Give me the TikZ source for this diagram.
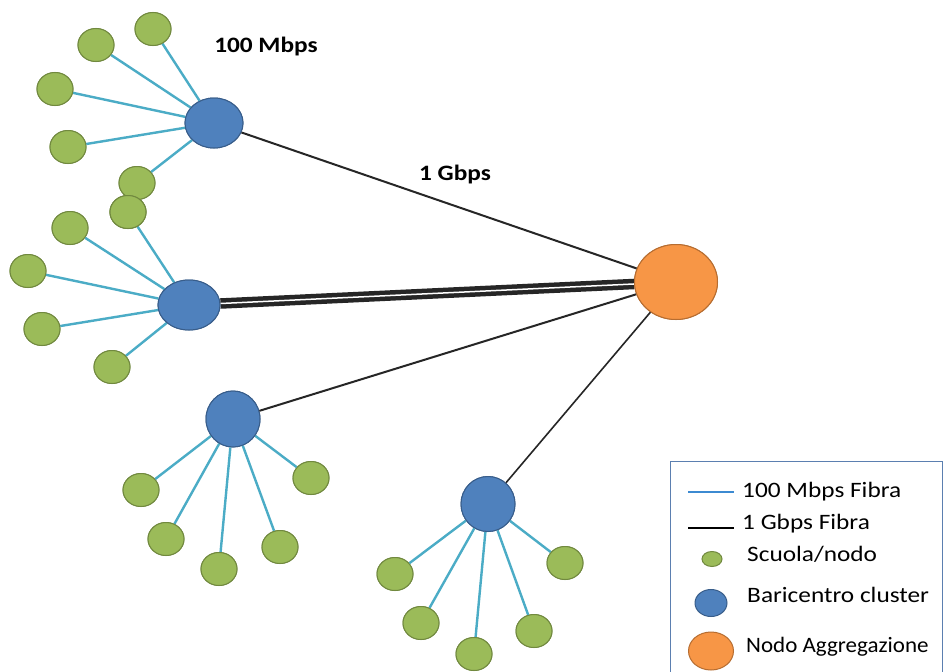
\documentclass[tikz,border=0pt]{standalone}
\usepackage{fontspec}
\setmainfont{Carlito}
\usetikzlibrary{shapes.geometric}
\definecolor{gfill}{HTML}{9BBB59}
\definecolor{gdraw}{HTML}{71893F}
\definecolor{bfill}{HTML}{4F81BD}
\definecolor{bdraw}{HTML}{385D8A}
\definecolor{ofill}{HTML}{F79646}
\definecolor{odraw}{HTML}{B66D31}
\definecolor{fibre}{HTML}{4BACC6}
\definecolor{legframe}{HTML}{5B7FB0}
\tikzset{
  school/.style={ellipse, fill=gfill, draw=gdraw, line width=1pt, minimum width=36pt, minimum height=33pt, inner sep=0pt},
  hub/.style={ellipse, fill=bfill, draw=bdraw, line width=1pt, inner sep=0pt},
  agg/.style={ellipse, fill=ofill, draw=odraw, line width=1pt, minimum width=83pt, minimum height=75pt, inner sep=0pt},
  slow/.style={draw=fibre, line width=2.4pt},
  fast/.style={draw=black!85, line width=2pt},
  fastdouble/.style={draw=black!85, line width=4.5pt, double=white, double distance=1.5pt},
  bold label/.style={font=\fontsize{22}{24}\selectfont\bfseries, xscale=1.15, inner sep=0pt},
  leg text/.style={font=\fontsize{22}{24}\selectfont, xscale=1.15, inner sep=0pt, anchor=west},
}
\begin{document}
\begin{tikzpicture}[x=1pt, y=-1pt]
\useasboundingbox (0,0) rectangle (943,672);
\clip (0,0) rectangle (943,672);
\fill[white] (0,0) rectangle (943,672);

% aggregation node
\node[agg] (O) at (676,282) {};

% cluster hubs
\node[hub, minimum width=58pt, minimum height=50pt] (H1) at (214,123) {};
\node[hub, minimum width=62pt, minimum height=50pt] (H2) at (189,305) {};
\node[hub, minimum width=54pt, minimum height=56pt] (H3) at (233,419) {};
\node[hub, minimum width=54pt, minimum height=55pt] (H4) at (488,504) {};

% cluster 1 schools
\node[school] (a1) at (153,29) {};
\node[school] (a2) at (96,45) {};
\node[school] (a3) at (55,89) {};
\node[school] (a4) at (68,147) {};
\node[school] (a5) at (137,183) {};
% cluster 2 schools
\node[school] (b1) at (128,212) {};
\node[school] (b2) at (70,228) {};
\node[school] (b3) at (28,271) {};
\node[school] (b4) at (42,329) {};
\node[school] (b5) at (112,367) {};
% cluster 3 schools
\node[school] (c1) at (141,490) {};
\node[school] (c2) at (166,539) {};
\node[school] (c3) at (219,569) {};
\node[school] (c4) at (280,547) {};
\node[school] (c5) at (311,478) {};
% cluster 4 schools
\node[school] (d1) at (395,574) {};
\node[school] (d2) at (421,623) {};
\node[school] (d3) at (474,654) {};
\node[school] (d4) at (534,631) {};
\node[school] (d5) at (565,563) {};

% 100 Mbps links
\foreach \h/\s in {H1/a1,H1/a2,H1/a3,H1/a4,H1/a5,H2/b1,H2/b2,H2/b3,H2/b4,H2/b5,H3/c1,H3/c2,H3/c3,H3/c4,H3/c5,H4/d1,H4/d2,H4/d3,H4/d4,H4/d5}
  \draw[slow] (\h) -- (\s);

% 1 Gbps links
\draw[fast] (H1) -- (O);
\draw[fastdouble] (H2) -- (O);
\draw[fast] (H3) -- (O);
\draw[fast, line width=1.6pt] (H4) -- (O);

% redraw nodes on top of links
\node[agg] at (O) {};
\node[hub, minimum width=58pt, minimum height=50pt] at (H1) {};
\node[hub, minimum width=62pt, minimum height=50pt] at (H2) {};
\node[hub, minimum width=54pt, minimum height=56pt] at (H3) {};
\node[hub, minimum width=54pt, minimum height=55pt] at (H4) {};
\foreach \s in {a1,a2,a3,a4,a5,b1,b2,b3,b4,b5,c1,c2,c3,c4,c5,d1,d2,d3,d4,d5}
  \node[school] at (\s) {};
\node[school] at (b1) {};

% labels
\node[bold label] (l100) at (266,47) {100 Mbps};
\node[bold label] (l1g) at (455,175) {1 Gbps};

% legend
\draw[legframe, line width=1pt] (670,461) rectangle (942,690);
\coordinate (k1a) at (688,492); \coordinate (k1b) at (734,492);
\coordinate (k2a) at (688,528); \coordinate (k2b) at (734,528);
\draw[draw=fibre!80!blue, line width=1.6pt] (k1a) -- (k1b);
\draw[draw=black, line width=1.5pt] (k2a) -- (k2b);
\node[leg text] (t1) at (742,492) {100 Mbps Fibra};
\node[leg text] (t2) at (742,524) {1 Gbps Fibra};
\node[school, minimum width=20pt, minimum height=15pt] (kg) at (712,559) {};
\node[leg text] (t3) at (747,554) {Scuola/nodo};
\node[hub, minimum width=32pt, minimum height=27pt] (kb) at (711,603) {};
\node[leg text] (t4) at (747,595) {Baricentro cluster};
\node[agg, minimum width=45pt, minimum height=38pt] (ko) at (711,651) {};
\node[leg text, xscale=0.91] (t5) at (746,647) {Nodo Aggregazione};
\end{tikzpicture}
\end{document}
